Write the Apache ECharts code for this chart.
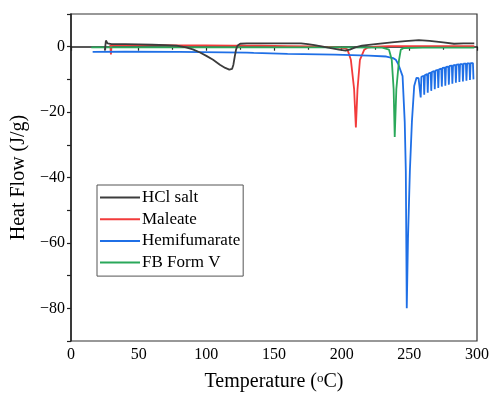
<!DOCTYPE html>
<html><head><meta charset="utf-8">
<script src="https://cdn.jsdelivr.net/npm/echarts@6/dist/echarts.min.js"></script>
<style>html,body{margin:0;padding:0;background:#fff}#c{width:492px;height:397px}</style>
</head><body><div id="c"></div>
<script>
const seriesNames = ['HCl salt', 'Maleate', 'Hemifumarate', 'FB Form V'];
const seriesColors = ['#3c3c3c', '#f23b3b', '#1f6fe6', '#2aa85a'];
const xTicks = [0, 50, 100, 150, 200, 250, 300];
const yTicks = [0, -20, -40, -60, -80];

const hclSalt = [[25,-1.2],[25.8,1.9],[27,1.0],[30,0.8],[40,0.8],[50,0.7],[60,0.6],[70,0.5],[78,0.3],[85,-0.2],[90,-0.8],[95,-1.7],[100,-2.8],[105,-4.0],[110,-5.5],[114,-6.5],[117,-7.0],[119,-6.8],[120,-5.5],[121,-3],[122,-0.8],[123,0.3],[125,0.9],[130,1.0],[150,1.0],[170,1.0],[175,0.8],[180,0.5],[190,-0.3],[198,-0.9],[203,-1.2],[206,-0.9],[210,-0.2],[215,0.3],[225,0.8],[237,1.3],[247,1.7],[257,2.0],[265,1.8],[275,1.3],[283,0.9],[290,1.0],[298,1.0]];

const maleate = [[29,0.6],[29.5,-2.4],[30,0.5],[40,0.5],[60,0.5],[80,0.4],[100,0.4],[120,0.3],[140,0.3],[160,0.2],[180,0.1],[195,-0.2],[202,-0.4],[204.3,-0.9],[206.8,-4],[209.2,-13],[210.5,-24.7],[211.7,-13],[213.5,-4],[216.7,-0.9],[219,-0.3],[225,0.0],[235,0.2],[250,0.2],[270,0.2],[298,0.2]];

const hemifumarate = [[16,-1.6],[40,-1.5],[80,-1.6],[130,-1.8],[135,-1.9],[160,-2.2],[195,-2.4],[220,-2.7],[233,-3.0],[238,-3.5],[240,-4.0],[242,-5.5],[245,-9],[246.6,-23],[247.4,-38],[248.1,-80],[249,-58.7],[250.4,-38],[251.9,-23],[253.6,-12],[255.3,-9.5],[256.8,-9.6],
[258.0,-9.4],[258.4,-15.5],[258.9,-9.2],[260.6,-8.9],[261.0,-14.7],[261.5,-8.7],[263.2,-8.4],[263.6,-14.1],[264.1,-8.2],[265.8,-7.9],[266.2,-13.5],[266.7,-7.7],[268.4,-7.5],[268.8,-13.0],[269.3,-7.3],[271.0,-7.1],[271.4,-12.6],[271.9,-6.9],[273.6,-6.7],[274.0,-12.2],[274.5,-6.5],[276.2,-6.4],[276.6,-11.9],[277.1,-6.2],[278.8,-6.1],[279.2,-11.6],[279.7,-5.9],[281.4,-5.8],[281.8,-11.3],[282.3,-5.7],[284.0,-5.6],[284.4,-11.0],[284.9,-5.5],[286.6,-5.4],[287.0,-10.8],[287.5,-5.3],[289.2,-5.3],[289.6,-10.6],[290.1,-5.2],[291.8,-5.2],[292.2,-10.4],[292.7,-5.1],[294.4,-5.1],[294.8,-10.2],[295.3,-5.0],[297.0,-5.0],[297.4,-10.0]];

const fbFormV = [[15,-0.2],[50,-0.2],[100,-0.2],[150,-0.2],[200,-0.2],[230,-0.3],[235,-0.9],[237,-4],[238.4,-13],[239.2,-27.6],[240.4,-13],[242.4,-4],[243.7,-0.9],[246,-0.4],[260,-0.3],[298,-0.3]];

const allData = [hclSalt, maleate, hemifumarate, fbFormV];
const FONT = 'Liberation Serif';

const chart = echarts.init(document.getElementById('c'));
chart.setOption({
  animation: false,
  backgroundColor: '#fff',
  grid: { left: 71, right: 14, top: 14, bottom: 54, show: true, borderColor: '#333', borderWidth: 1.2, backgroundColor: 'transparent' },
  legend: {
    orient: 'vertical', left: 97, top: 185,
    data: seriesNames.map(n => ({ name: n, icon: 'rect' })),
    itemWidth: 40, itemHeight: 2, itemGap: 4.7,
    padding: [4, 3, 5, 3],
    borderColor: '#555', borderWidth: 1, backgroundColor: '#fff',
    textStyle: { fontFamily: FONT, fontSize: 17, color: '#000', lineHeight: 17, padding: [0, 0, 0, -3] },
    selectedMode: false
  },
  xAxis: {
    type: 'value', min: 0, max: 300, interval: 50,
    name: 'Temperature ({s|o}C)', nameLocation: 'middle', nameGap: 31,
    nameTextStyle: { fontFamily: FONT, fontSize: 20, color: '#000', rich: { s: { fontFamily: FONT, fontSize: 13, verticalAlign: 'top', padding: [0, 0, 7, 0], color: '#000' } } },
    axisLine: { show: true, lineStyle: { color: '#222', width: 1.5 } },
    axisTick: { show: true, length: 4, lineStyle: { color: '#222', width: 1.2 } },
    minorTick: { show: true, splitNumber: 2, length: 3, lineStyle: { color: '#222', width: 1.2 } },
    splitLine: { show: false },
    axisLabel: { fontFamily: FONT, fontSize: 16, color: '#000', margin: 6, formatter: v => xTicks.includes(v) ? String(v) : '' }
  },
  yAxis: {
    type: 'value', min: -90, max: 10, interval: 10,
    name: 'Heat Flow (J/g)', nameLocation: 'middle', nameGap: 36,
    nameTextStyle: { fontFamily: FONT, fontSize: 20, color: '#000' },
    axisLine: { show: true, lineStyle: { color: '#222', width: 1.5 } },
    axisTick: { show: true, length: 4, lineStyle: { color: '#222', width: 1.2 } },
    splitLine: { show: false },
    axisLabel: { fontFamily: FONT, fontSize: 16, color: '#000', margin: 6,
      formatter: v => yTicks.includes(v) ? String(v).replace('-', '\u2212') : '' }
  },
  series: seriesNames.map((n, i) => ({
    name: n, type: 'line', data: allData[i], showSymbol: false, symbol: 'none',
    color: seriesColors[i],
    lineStyle: { color: seriesColors[i], width: 1.8 },
    z: i === 0 ? 5 : 3
  }))
});
</script></body></html>
